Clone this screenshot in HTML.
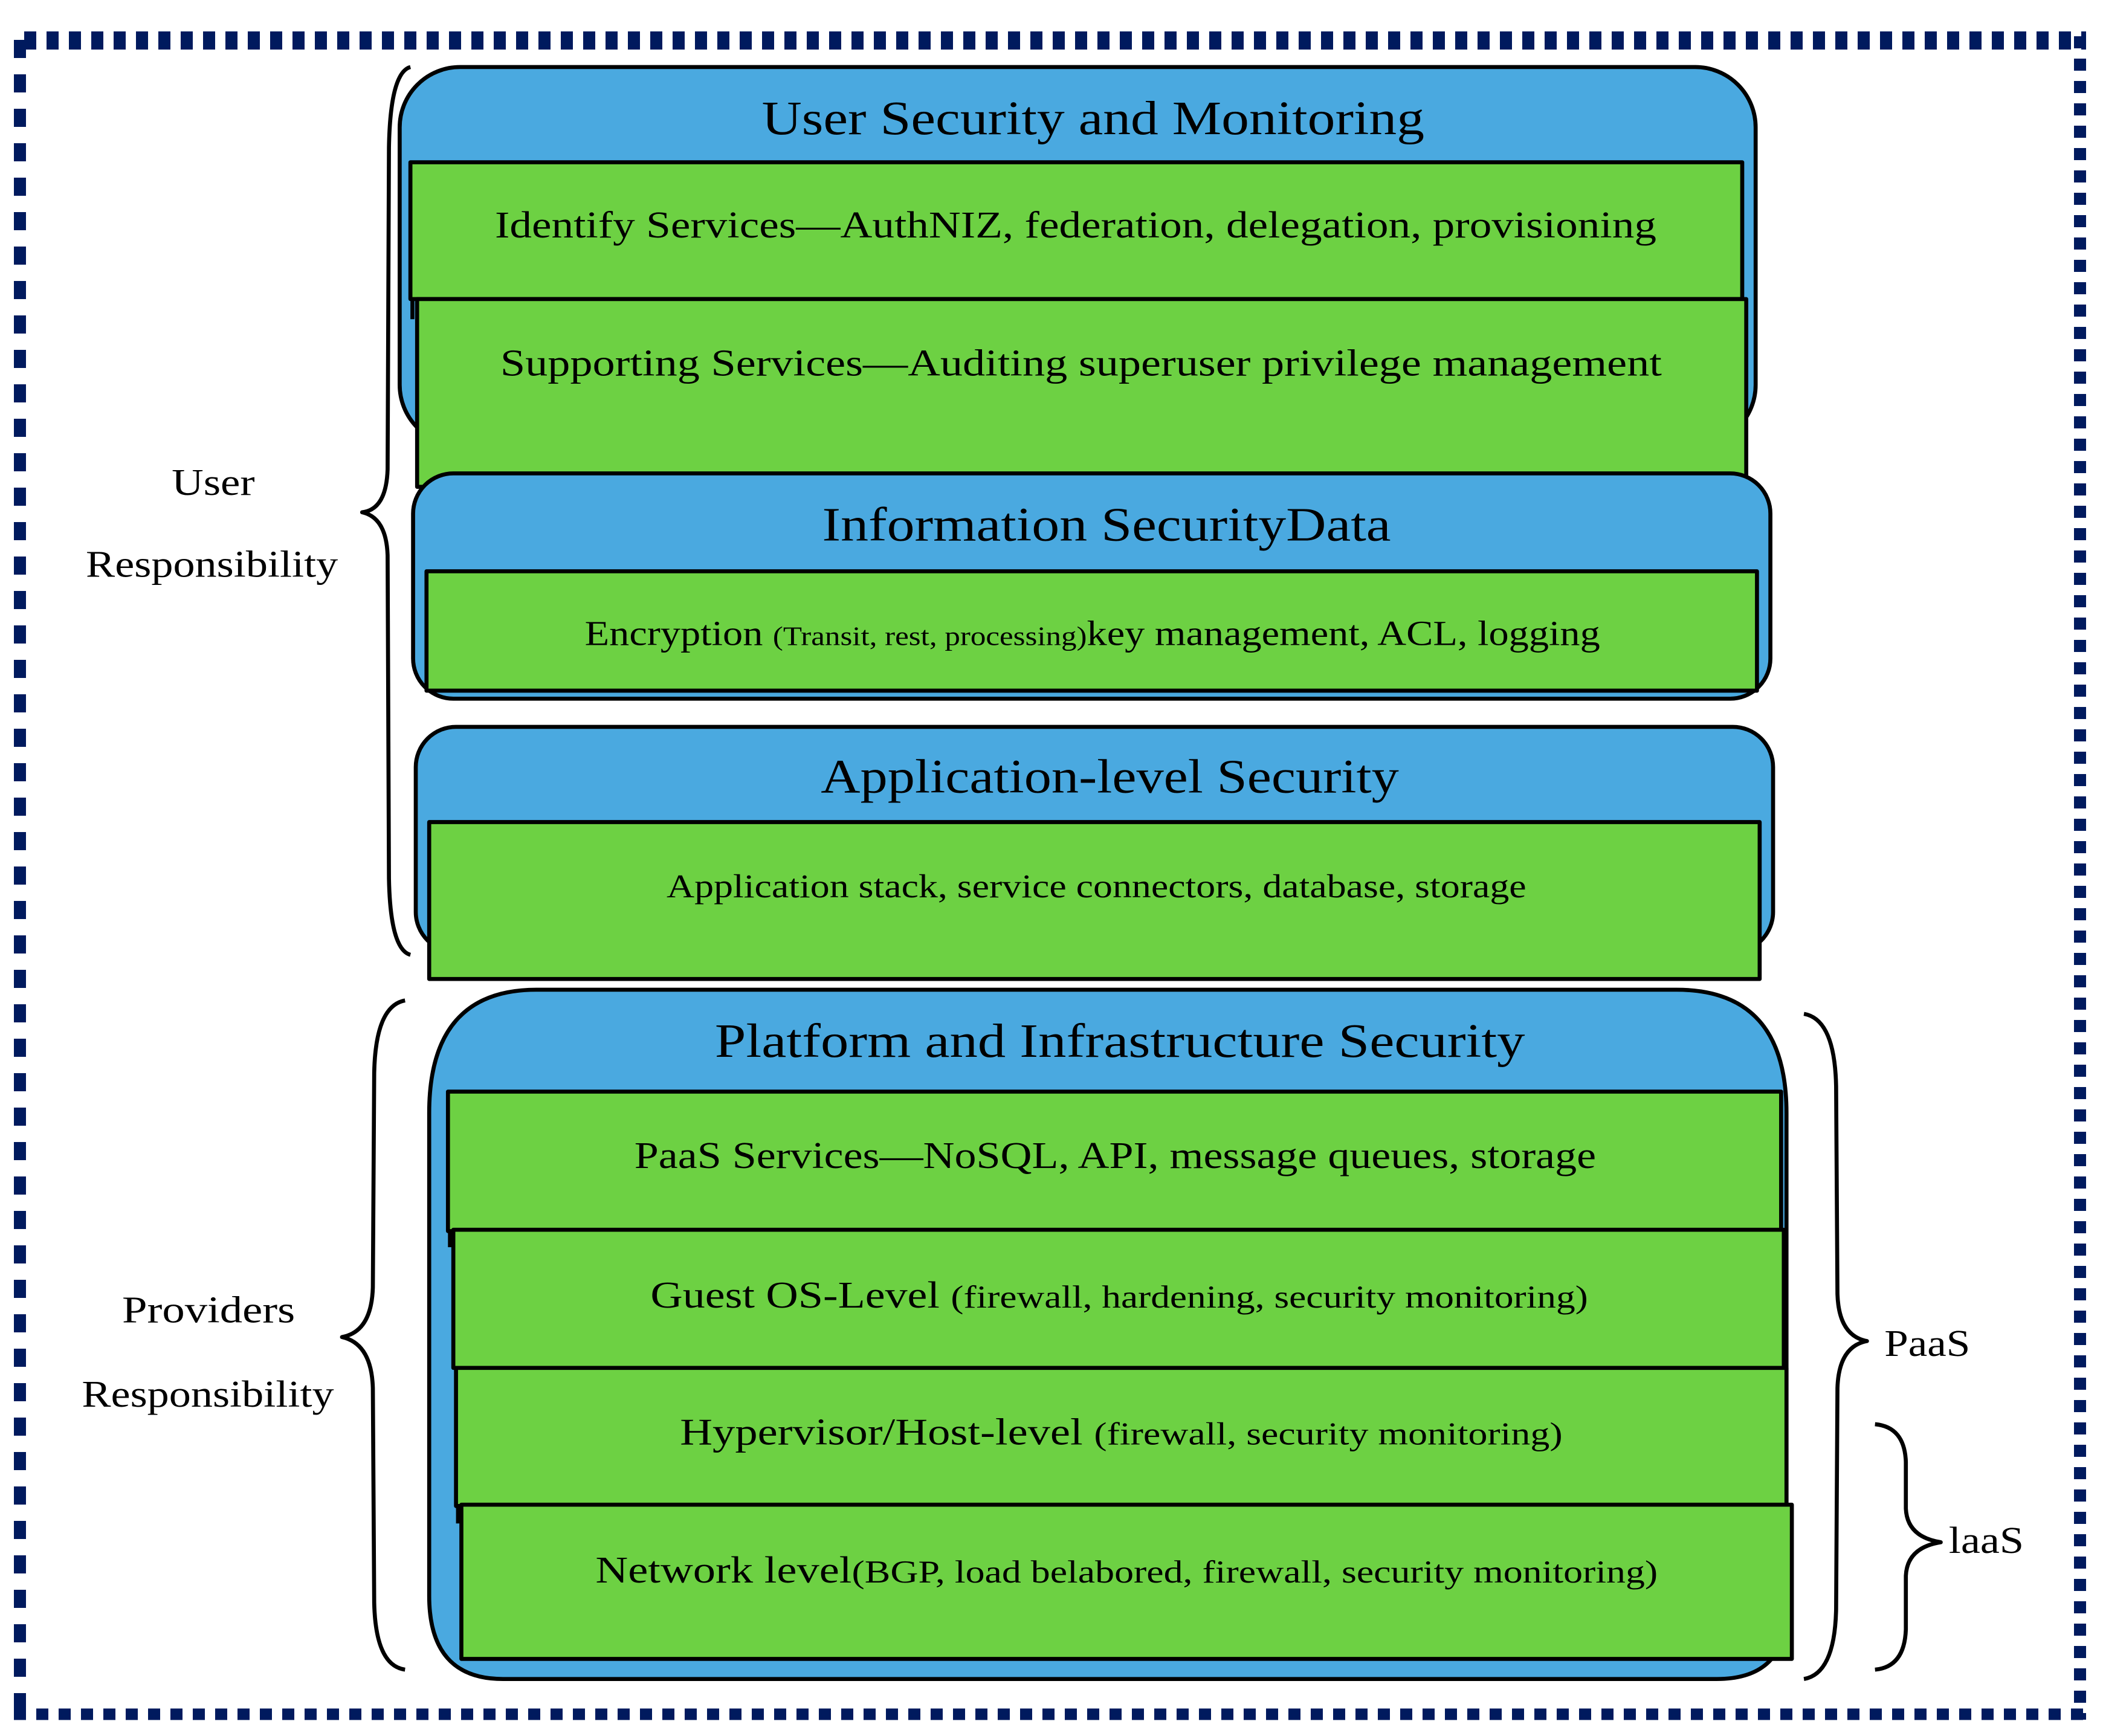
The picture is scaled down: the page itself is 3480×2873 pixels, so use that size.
<!DOCTYPE html>
<html><head><meta charset="utf-8"><style>
html,body{margin:0;padding:0;background:#fff;}
svg{display:block;}
text{font-family:"Liberation Serif",serif;fill:#000;}
</style></head><body>
<svg width="3480" height="2873" viewBox="0 0 3480 2873" xmlns="http://www.w3.org/2000/svg">
<rect width="3480" height="2873" fill="#fff"/>
<!-- dashed frame -->
<line x1="40" y1="67" x2="3452" y2="67" stroke="#001a5e" stroke-width="30" stroke-dasharray="20 17"/>
<line x1="33" y1="66" x2="33" y2="2846" stroke="#001a5e" stroke-width="20" stroke-dasharray="30 27"/>
<line x1="3442" y1="60" x2="3442" y2="2846" stroke="#001a5e" stroke-width="20" stroke-dasharray="20 17"/>
<line x1="23" y1="2837" x2="3452" y2="2837" stroke="#001a5e" stroke-width="19" stroke-dasharray="20 17"/>
<g transform="scale(2.2194)" stroke-linejoin="round">
<g stroke="#000" stroke-width="3">
<!-- box1 -->
<rect x="298" y="50" width="1011" height="282" rx="45" fill="#4aa9e0"/>
<rect x="306" y="121" width="993" height="102" fill="#6dd143"/>
<line x1="307.5" y1="222" x2="307.5" y2="238"/>
<rect x="311" y="223" width="991" height="140" fill="#6dd143"/>
<!-- box3 -->
<rect x="308" y="353" width="1012" height="168" rx="30" fill="#4aa9e0"/>
<rect x="318" y="426" width="992" height="89" fill="#6dd143"/>
<!-- box4 -->
<rect x="310" y="542" width="1012" height="168" rx="30" fill="#4aa9e0"/>
<rect x="320" y="613" width="992" height="117" fill="#6dd143"/>
<!-- box5 -->
<path d="M400,738 H1250 Q1332,738 1332,830 V1200 Q1332,1252 1280,1252 H375 Q320,1252 320,1190 V830 Q320,738 400,738 Z" fill="#4aa9e0"/>
<rect x="334" y="814" width="994" height="104" fill="#6dd143"/>
<line x1="335.5" y1="917" x2="335.5" y2="930"/>
<rect x="338" y="917" width="992" height="103" fill="#6dd143"/>
<rect x="340" y="1020" width="992" height="103" fill="#6dd143"/>
<line x1="341.5" y1="1122" x2="341.5" y2="1136"/>
<rect x="344" y="1122" width="992" height="115" fill="#6dd143"/>
</g>
<!-- braces -->
<g fill="none" stroke="#000" stroke-width="3">
<path d="M306,50 Q291,54 290,110 L289,350 Q288,380 270,382 Q288,386 289,414 L290,655 Q291,708 306,712"/>
<path d="M302,746 Q280,750 279,800 L278,960 Q277,993 255,997 Q277,1002 278,1035 L279,1195 Q280,1242 302,1245"/>
<path d="M1345,756 Q1368,760 1369,810 L1370,965 Q1371,996 1392,1000 Q1371,1004 1370,1035 L1369,1200 Q1368,1248 1345,1252"/>
<path d="M1398,1062 Q1420,1064 1421,1090 L1421,1125 Q1422,1146 1447,1150 Q1422,1154 1421,1175 L1421,1215 Q1420,1243 1398,1245"/>
</g>
<!-- texts -->
<g text-anchor="start" lengthAdjust="spacingAndGlyphs">
<text x="568" y="100" font-size="36" textLength="494" lengthAdjust="spacingAndGlyphs">User Security and Monitoring</text>
<text x="369" y="177" font-size="28" textLength="866" lengthAdjust="spacingAndGlyphs">Identify Services—AuthNIZ, federation, delegation, provisioning</text>
<text x="373" y="280" font-size="28" textLength="866" lengthAdjust="spacingAndGlyphs">Supporting Services—Auditing superuser privilege management</text>
<text x="613" y="403" font-size="36" textLength="424" lengthAdjust="spacingAndGlyphs">Information SecurityData</text>
<text x="436" y="481" font-size="26" textLength="757" lengthAdjust="spacingAndGlyphs">Encryption <tspan font-size="20">(Transit, rest, processing)</tspan>key management, ACL, logging</text>
<text x="612" y="591" font-size="36" textLength="431" lengthAdjust="spacingAndGlyphs">Application-level Security</text>
<text x="497" y="669" font-size="25" textLength="641" lengthAdjust="spacingAndGlyphs">Application stack, service connectors, database, storage</text>
<text x="533" y="788" font-size="36" textLength="604" lengthAdjust="spacingAndGlyphs">Platform and Infrastructure Security</text>
<text x="473" y="871" font-size="28" textLength="717" lengthAdjust="spacingAndGlyphs">PaaS Services—NoSQL, API, message queues, storage</text>
<text x="485" y="975" font-size="28" textLength="699" lengthAdjust="spacingAndGlyphs">Guest OS-Level <tspan font-size="24">(firewall, hardening, security monitoring)</tspan></text>
<text x="507" y="1077" font-size="28" textLength="658" lengthAdjust="spacingAndGlyphs">Hypervisor/Host-level <tspan font-size="24">(firewall, security monitoring)</tspan></text>
<text x="444" y="1180" font-size="28" textLength="792" lengthAdjust="spacingAndGlyphs">Network level<tspan font-size="24">(BGP, load belabored, firewall, security monitoring)</tspan></text>
<text x="128" y="369" font-size="28" textLength="62" lengthAdjust="spacingAndGlyphs">User</text>
<text x="64" y="430" font-size="28" textLength="188" lengthAdjust="spacingAndGlyphs">Responsibility</text>
<text x="91" y="986" font-size="28" textLength="129" lengthAdjust="spacingAndGlyphs">Providers</text>
<text x="61" y="1049" font-size="28" textLength="188" lengthAdjust="spacingAndGlyphs">Responsibility</text>
<text x="1405" y="1011" font-size="28" textLength="64" lengthAdjust="spacingAndGlyphs">PaaS</text>
<text x="1453" y="1158" font-size="28" textLength="56" lengthAdjust="spacingAndGlyphs">laaS</text>
</g>
</g>
</svg>
</body></html>
